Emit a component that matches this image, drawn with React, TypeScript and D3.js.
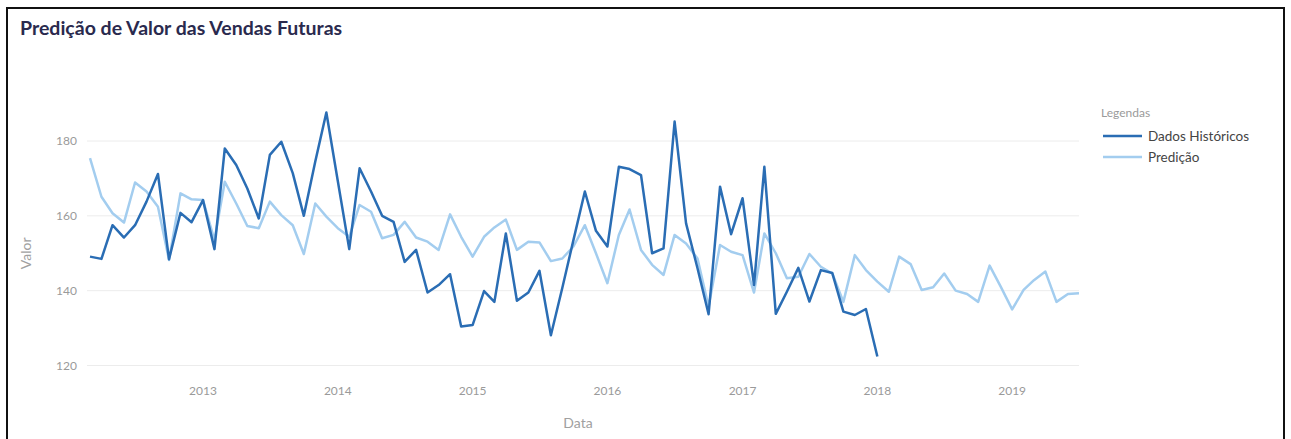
import React from "react";
import * as d3 from "d3";

const startMonth = "2012-03-01";

const historico = [
  149.1, 148.5, 157.5, 154.2, 157.5, 163.8, 171.2, 148.4, 160.8, 158.3,
  164.2, 151.1, 178.0, 173.6, 167.3, 159.3, 176.3, 179.8, 171.4, 160.0,
  174.5, 187.6, 169.3, 151.1, 172.7, 166.5, 160.0, 158.4, 147.7, 150.9,
  139.5, 141.5, 144.4, 130.4, 130.8, 139.9, 137.0, 155.3, 137.3, 139.5,
  145.3, 128.1, 140.8, 153.5, 166.5, 156.0, 151.8, 173.1, 172.5, 170.9,
  150.0, 151.3, 185.2, 158.0, 146.0, 133.7, 167.8, 155.1, 164.7, 141.5,
  173.1, 133.8, 139.7, 146.1, 137.1, 145.5, 144.7, 134.4, 133.5, 135.1,
  122.4,
];

const predicao = [
  175.4, 165.1, 160.7, 158.2, 168.9, 166.5, 162.4, 148.2, 166.0, 164.4,
  164.2, 153.5, 169.1, 163.3, 157.3, 156.7, 163.8, 160.2, 157.5, 149.8,
  163.3, 159.8, 156.7, 154.4, 162.9, 161.1, 154.0, 154.9, 158.4, 154.2,
  153.1, 150.9, 160.4, 154.4, 149.1, 154.4, 156.9, 159.0, 150.9, 153.1,
  152.9, 147.9, 148.6, 151.8, 157.5, 150.0, 142.0, 154.9, 161.7, 150.9,
  146.9, 144.2, 154.9, 152.6, 148.6, 135.7, 152.2, 150.4, 149.5, 139.5,
  155.3, 150.0, 143.3, 143.7, 149.8, 146.4, 144.6, 137.0, 149.5, 145.5,
  142.4, 139.7, 149.1, 147.1, 140.2, 140.9, 144.6, 140.0, 139.1, 137.0,
  146.7, 141.1, 135.0, 140.2, 142.8, 145.1, 137.0, 139.1, 139.3,
];

const yTicks = [120, 140, 160, 180];
const xTickYears = [2013, 2014, 2015, 2016, 2017, 2018, 2019];
const seriesNames = ["Dados Históricos", "Predição"];
const seriesColors = ["#2a6db4", "#a3cdef"];

const FONT = "'Source Sans Pro', Lato, 'Open Sans', sans-serif";

export default function App() {
  const start = new Date(startMonth + "T00:00:00");
  const dateAt = (i: number) => d3.timeMonth.offset(start, i);
  const histData = historico.map((v, i) => ({ d: dateAt(i), v }));
  const predData = predicao.map((v, i) => ({ d: dateAt(i), v }));

  const x = d3
    .scaleTime()
    .domain([start, dateAt(predicao.length - 1)])
    .range([90, 1079]);
  const y = d3.scaleLinear().domain([120, 180]).range([365.5, 141]);

  const line = d3
    .line<{ d: Date; v: number }>()
    .x((p) => x(p.d))
    .y((p) => y(p.v));

  const gridX0 = 87;
  const gridX1 = 1079;

  return (
    <svg
      width={1291}
      height={439}
      style={{ position: "absolute", left: 0, top: 0, background: "#fff" }}
      fontFamily={FONT}
    >
      <rect x={0} y={0} width={1291} height={439} fill="#fff" />
      <rect x={7} y={8} width={1277} height={445} fill="none" stroke="#111" strokeWidth={2} />
      <text x={20} y={35} fontSize={19.5} fontWeight={700} fill="#2a2a4e">
        Predição de Valor das Vendas Futuras
      </text>

      {yTicks.map((t) => (
        <g key={t}>
          <line x1={gridX0} x2={gridX1} y1={y(t)} y2={y(t)} stroke="#ececec" strokeWidth={1} />
          <text x={77} y={y(t) + 4} fontSize={12} fill="#9a9a9a" textAnchor="end">
            {t}
          </text>
        </g>
      ))}

      {xTickYears.map((yr) => (
        <text
          key={yr}
          x={x(new Date(yr, 0, 1))}
          y={395}
          fontSize={12}
          fill="#9a9a9a"
          textAnchor="middle"
        >
          {yr}
        </text>
      ))}

      <text x={578} y={428} fontSize={14} fill="#a0a0a0" textAnchor="middle">
        Data
      </text>
      <text
        transform={`translate(31, ${y(150)}) rotate(-90)`}
        fontSize={14}
        fill="#a0a0a0"
        textAnchor="middle"
      >
        Valor
      </text>

      <path d={line(predData) || ""} fill="none" stroke={seriesColors[1]} strokeWidth={2.5} strokeLinejoin="round" />
      <path d={line(histData) || ""} fill="none" stroke={seriesColors[0]} strokeWidth={2.5} strokeLinejoin="round" />

      <text x={1101} y={117} fontSize={12} fill="#9a9a9a">
        Legendas
      </text>
      {seriesNames.map((name, i) => (
        <g key={name} transform={`translate(0, ${136 + i * 21})`}>
          <line x1={1103} x2={1142} y1={0} y2={0} stroke={seriesColors[i]} strokeWidth={2.5} />
          <text x={1148} y={4.5} fontSize={13.5} fill="#444">
            {name}
          </text>
        </g>
      ))}
    </svg>
  );
}
